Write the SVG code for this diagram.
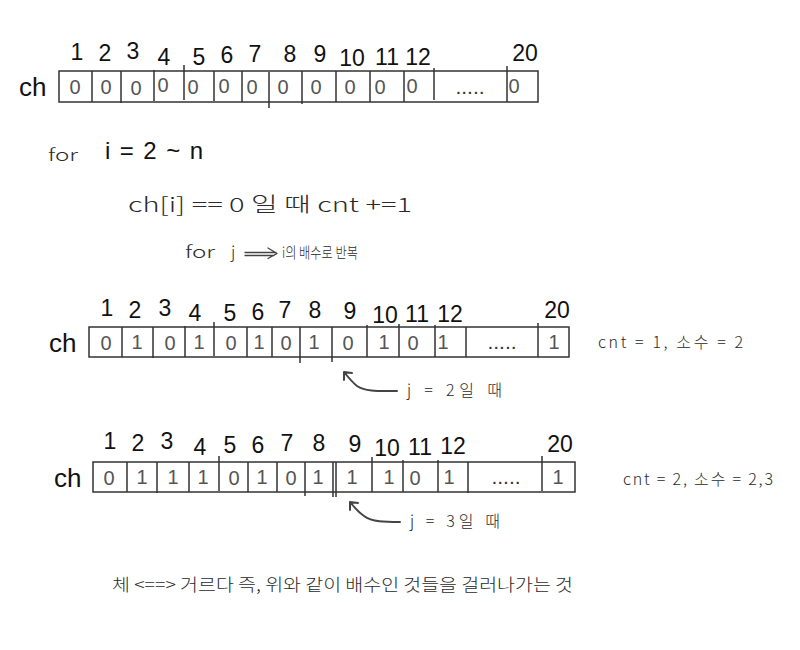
<svg xmlns="http://www.w3.org/2000/svg" width="800" height="650" viewBox="0 0 800 650">
<style>
.box{fill:none;stroke:#333;stroke-width:1.5}
.div{stroke:#333;stroke-width:1.5}
.lbl{font-family:"Liberation Sans",Arial,sans-serif;font-size:23px;fill:#111;text-anchor:middle}
.ch{font-family:"Liberation Sans",Arial,sans-serif;font-size:26px;fill:#111}
.val{font-family:"Liberation Sans",Arial,sans-serif;font-size:20px;fill:#555;text-anchor:middle}
.dots{font-family:"Liberation Sans",Arial,sans-serif;font-size:21px;fill:#333;text-anchor:middle}
.hw{font-family:"Noto Sans CJK KR","Noto Sans",sans-serif;font-weight:300;fill:#2a2a2a}
.arr{fill:none;stroke:#444;stroke-width:2;stroke-linecap:round;stroke-linejoin:round}
</style>
<rect width="800" height="650" fill="#fff"/>

<g id="array1">
<text class="ch" x="19" y="96">ch</text>
<rect class="box" x="59" y="71" width="479" height="31"/>
<path class="div" d="M92 71V102M121 71V103M154 70V101M184 65V100M214 71V101M242 71V102M269 72V108M302 71V104M336 71V102M370 71V102M404 71V102M434 68V100M507 66V102"/>
<g class="lbl">
<text x="77" y="60">1</text><text x="105" y="61">2</text><text x="133" y="59">3</text><text x="164" y="65">4</text><text x="199" y="65">5</text><text x="227" y="63">6</text><text x="255" y="62">7</text><text x="290" y="62">8</text><text x="320" y="62">9</text><text x="352" y="66">10</text><text x="387" y="65">11</text><text x="418" y="65">12</text><text x="525" y="61">20</text>
</g>
<g class="val">
<text x="75" y="94">0</text><text x="106" y="94">0</text><text x="136" y="95">0</text><text x="163" y="92">0</text><text x="193" y="94">0</text><text x="224" y="93">0</text><text x="252" y="94">0</text><text x="283" y="94">0</text><text x="316" y="94">0</text><text x="350" y="94">0</text><text x="380" y="94">0</text><text x="412" y="93">0</text><text x="514" y="93">0</text>
</g>
<text class="dots" x="470" y="94">.....</text>
</g>

<g id="loop">
<text class="hw" x="48" y="161" font-size="17" textLength="30" lengthAdjust="spacingAndGlyphs">for</text>
<text class="ch" x="105" y="159" style="font-size:24px" textLength="98" lengthAdjust="spacing">i = 2 ~ n</text>
<text class="hw" x="128" y="212" font-size="20" textLength="284" lengthAdjust="spacingAndGlyphs">ch[i] == 0 일 때 cnt +=1</text>
<text class="hw" x="185" y="258" font-size="17" textLength="30" lengthAdjust="spacingAndGlyphs">for</text>
<text class="hw" x="231" y="258" font-size="17">j</text>
<path class="arr" d="M245 252.5H276M268 248L277 253.5L268 258.5M245 255.5H274" style="stroke-width:1.3"/>
<text class="hw" x="282" y="258" font-size="15" textLength="76" lengthAdjust="spacingAndGlyphs">i의 배수로 반복</text>
</g>

<g id="array2">
<text class="ch" x="49" y="352">ch</text>
<rect class="box" x="89" y="327" width="480" height="30"/>
<path class="div" d="M122 327V357M153 327V358M185 326V357M214 322V356M247 327V357M272 327V357M300 327V363M332 327V362M367 325V357M399 324V357M435 325V357M466 327V357M538 323V357"/>
<g class="lbl">
<text x="107" y="316">1</text><text x="135" y="318">2</text><text x="165" y="316">3</text><text x="195" y="321">4</text><text x="230" y="321">5</text><text x="258" y="320">6</text><text x="285" y="318">7</text><text x="315" y="318">8</text><text x="350" y="319">9</text><text x="385" y="323">10</text><text x="417" y="322">11</text><text x="450" y="322">12</text><text x="557" y="318">20</text>
</g>
<g class="val">
<text x="106" y="350">0</text><text x="137" y="349">1</text><text x="170" y="350">0</text><text x="199" y="349">1</text><text x="231" y="350">0</text><text x="259" y="349">1</text><text x="286" y="350">0</text><text x="314" y="349">1</text><text x="348" y="350">0</text><text x="384" y="349">1</text><text x="413" y="350">0</text><text x="443" y="349">1</text><text x="554" y="349">1</text>
</g>
<text class="dots" x="502" y="349">.....</text>
<text class="hw" x="598" y="348" font-size="16" textLength="145" lengthAdjust="spacing">cnt = 1, 소수 = 2</text>
<path class="arr" d="M397 391C380 391 366 392 357 386C352 382 348 377 344 372M344 372L344 380M344 372L352 373"/>
<text class="hw" x="407" y="396" font-size="16" textLength="95" lengthAdjust="spacing">j = 2일 때</text>
</g>

<g id="array3">
<text class="ch" x="54" y="487">ch</text>
<rect class="box" x="93" y="462" width="482" height="30"/>
<path class="div" d="M127 462V492M157 462V493M189 462V492M219 456V491M248 462V492M277 462V492M305 462V496M333 462V497M336 462V497M372 457V492M403 460V492M438 460V492M468 462V493M542 456V491"/>
<g class="lbl">
<text x="110" y="449">1</text><text x="138" y="451">2</text><text x="167" y="449">3</text><text x="200" y="455">4</text><text x="230" y="453">5</text><text x="258" y="453">6</text><text x="287" y="451">7</text><text x="319" y="451">8</text><text x="355" y="452">9</text><text x="387" y="456">10</text><text x="420" y="455">11</text><text x="453" y="454">12</text><text x="560" y="452">20</text>
</g>
<g class="val">
<text x="109" y="485">0</text><text x="142" y="484">1</text><text x="173" y="484">1</text><text x="203" y="484">1</text><text x="234" y="485">0</text><text x="262" y="484">1</text><text x="291" y="485">0</text><text x="318" y="484">1</text><text x="352" y="484">1</text><text x="389" y="484">1</text><text x="415" y="485">0</text><text x="449" y="484">1</text><text x="558" y="484">1</text>
</g>
<text class="dots" x="506" y="484">.....</text>
<text class="hw" x="623" y="485" font-size="16" textLength="150" lengthAdjust="spacing">cnt = 2, 소수 = 2,3</text>
<path class="arr" d="M400 522C385 522 372 522 364 516C358 512 354 507 350 502M350 502L350 510M350 502L358 503"/>
<text class="hw" x="410" y="527" font-size="16" textLength="90" lengthAdjust="spacing">j = 3일 때</text>
</g>

<g id="note">
<text class="hw" x="112" y="591" font-size="17" textLength="461" lengthAdjust="spacingAndGlyphs">체 &lt;==&gt; 거르다 즉, 위와 같이 배수인 것들을 걸러나가는 것</text>
</g>
</svg>
